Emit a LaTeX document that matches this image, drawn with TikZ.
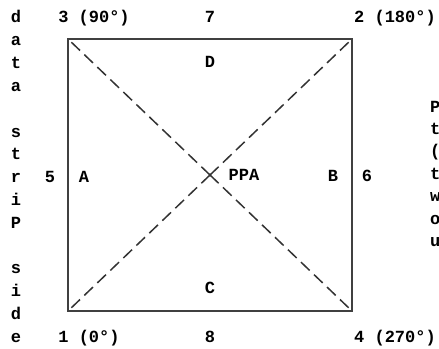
\documentclass[tikz,border=0pt]{standalone}
\usepackage{fontspec}
\setmonofont{Liberation Mono}
\tikzset{
  lbl/.style={font=\ttfamily\bfseries\fontsize{17}{20}\selectfont, inner sep=0pt, anchor=base},
  frame/.style={draw=black!75, line width=1.8pt},
  diag/.style={draw=black!80, line width=1.5pt, dash pattern=on 12pt off 6pt},
}
\begin{document}
\begin{tikzpicture}[x=1pt, y=-1pt]
  \useasboundingbox (0,0) rectangle (439,348);
  % Hjoerner og midtpunkt
  \coordinate (c3) at (68,39);
  \coordinate (c2) at (352,39);
  \coordinate (c1) at (68,311);
  \coordinate (c4) at (352,311);
  \coordinate (ppa) at (210,175);
  % Ramme
  \draw[frame] (c1) -- (c3) -- (c2) -- (c4) -- cycle;
  % Diagonaler
  \draw[diag] (ppa) -- (c1);
  \draw[diag] (ppa) -- (c2);
  \draw[diag] (ppa) -- (c3);
  \draw[diag] (ppa) -- (c4);
  % Hjoernetall
  \node[lbl] (n3) at (94,23) {3 (90°)};
  \node[lbl] (n7) at (210,23) {7};
  \node[lbl] (n2) at (395,23) {2 (180°)};
  \node[lbl] (n1) at (89,342) {1 (0°)};
  \node[lbl] (n8) at (210,342) {8};
  \node[lbl] (n4) at (395,342) {4 (270°)};
  % Sider
  \node[lbl] (sD) at (210,67) {D};
  \node[lbl] (sC) at (210,293) {C};
  \node[lbl] (n5) at (50,182) {5};
  \node[lbl] (sA) at (84,182) {A};
  \node[lbl] (sB) at (333,181) {B};
  \node[lbl] (n6) at (367,181) {6};
  \node[lbl] (lppa) at (244,180) {PPA};
  % Loddrett tekst, venstre
  \foreach \ch/\row in {d/0,a/1,t/2,a/3,s/5,t/6,r/7,i/8,P/9,s/11,i/12,d/13,e/14}
    \node[lbl] (strip\row) at (16,{23+\row*22.8}) {\ch};
  % Loddrett tekst, hoeyre
  \foreach \ch/\row in {P/0,t/1,{(}/2,t/3,w/4,o/5,u/6}
    \node[lbl, anchor=base west] (print\row) at (430,{112+\row*22.4}) {\ch};
\end{tikzpicture}
\end{document}
